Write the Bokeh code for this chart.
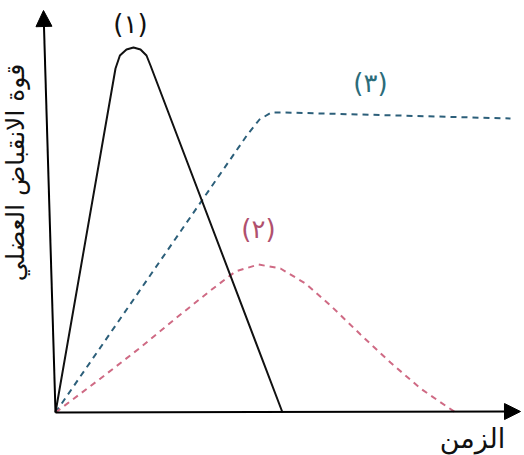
import math
from bokeh.plotting import figure
from bokeh.models import Arrow, NormalHead
from bokeh.core.properties import value
from bokeh.embed import file_html
from bokeh.resources import INLINE

# Schematic data (arbitrary units): time vs muscle contraction force
t1 = [0, 3.0, 3.22, 3.55, 3.9, 4.25, 4.55, 4.75, 11.35]
f1 = [0, 17.2, 17.85, 18.15, 18.25, 18.15, 17.85, 17.35, 0]

t2 = [0, 2.25, 4.25, 6.25, 7.75, 9.0, 10.15, 11.25, 12.5, 13.75, 15.25, 16.75, 18.25, 20.0]
f2 = [0, 1.7, 3.25, 4.9, 6.1, 7.05, 7.4, 7.2, 6.45, 5.35, 3.9, 2.5, 1.2, 0]

t3 = [0, 9.6, 10.2, 10.8, 11.5, 22.75]
f3 = [0, 13.9, 14.65, 15.0, 15.0, 14.7]

labels = ["(١)", "(٢)", "(٣)"]
label_t = [3.75, 10.15, 15.75]
label_f = [19.45, 9.2, 16.5]
label_colors = ["#111111", "#b0506e", "#2b6c7a"]

x_title = "الزمن"
y_title = "قوة الانقباض العضلي"

p = figure(width=524, height=455, x_range=(-2.75, 23.45), y_range=(-2.15, 20.6),
           output_backend="svg", toolbar_location=None, min_border=0)
p.axis.visible = False
p.grid.visible = False
p.outline_line_color = None
p.background_fill_color = "white"

# axes as arrows
p.add_layout(Arrow(end=NormalHead(size=16, fill_color="black", line_color="black"),
                   x_start=0, y_start=0, x_end=-0.6, y_end=20.1,
                   line_color="black", line_width=2))
p.add_layout(Arrow(end=NormalHead(size=16, fill_color="black", line_color="black"),
                   x_start=0, y_start=0, x_end=23.25, y_end=0.05,
                   line_color="black", line_width=2))

# curves
p.line(t3, f3, line_color="#2c5f7a", line_width=2, line_dash="6 5")
p.line(t2, f2, line_color="#cf6a84", line_width=2, line_dash="6 5")
p.line(t1, f1, line_color="#111111", line_width=2)

p.text(label_t, label_f, text=labels, text_color=label_colors,
       text_font=value("DejaVu Sans"), text_font_size="26px",
       text_align="center", text_baseline="middle")

p.text([-2.0], [12.0], text=[y_title], angle=math.pi / 2,
       text_font=value("DejaVu Sans"), text_font_size="25px",
       text_align="center", text_baseline="middle", text_color="#111111")
p.text([20.85], [-1.3], text=[x_title],
       text_font=value("DejaVu Sans"), text_font_size="27px",
       text_align="center", text_baseline="middle", text_color="#111111")

open("out.html", "w").write(file_html(p, INLINE))
